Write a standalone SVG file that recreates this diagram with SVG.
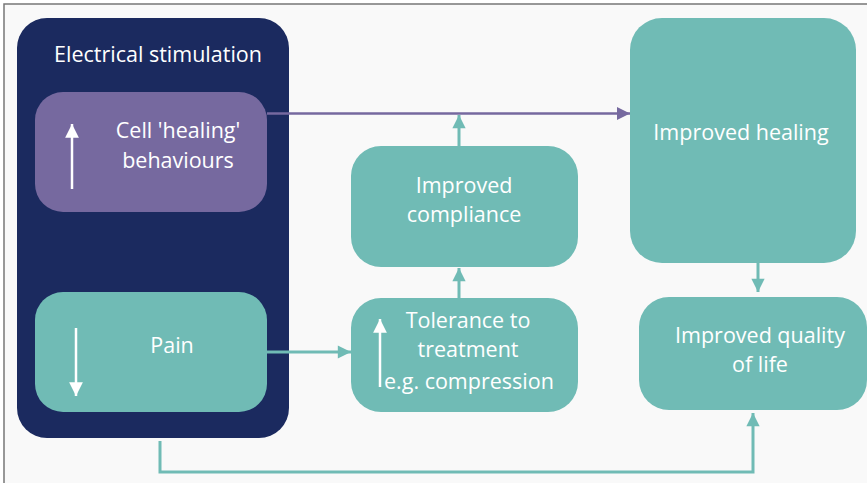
<svg xmlns="http://www.w3.org/2000/svg" width="867" height="483" viewBox="0 0 867 483">
<style>
.t{font-family:"Open Sans","Noto Sans",sans-serif;font-size:21.5px;fill:#ffffff;text-anchor:middle}
.teal{fill:#70bbb5}
.tl{stroke:#70bbb5;stroke-width:3;fill:none}
</style>
<defs>
<marker id="ah" viewBox="0 0 10 10" refX="10" refY="5" markerWidth="5.5" markerHeight="4.4" orient="auto" markerUnits="strokeWidth"><path d="M0,0 L10,5 L0,10 z" fill="#70bbb5"/></marker>
<marker id="ap" viewBox="0 0 10 10" refX="10" refY="5" markerWidth="7" markerHeight="5.2" orient="auto" markerUnits="strokeWidth"><path d="M0,0 L10,5 L0,10 z" fill="#76699f"/></marker>
<marker id="aw" viewBox="0 0 10 10" refX="10" refY="5" markerWidth="6" markerHeight="5.5" orient="auto" markerUnits="strokeWidth"><path d="M0,0 L10,5 L0,10 z" fill="#ffffff"/></marker>
</defs>
<rect width="867" height="483" fill="#ffffff"/>
<rect x="4" y="4" width="880" height="490" fill="#f9f9f9" stroke="#777777" stroke-width="1.5"/>
<g id="electrical">
<rect x="17" y="18" width="272" height="420" rx="30" fill="#1b2a5f"/>
<text class="t" x="158" y="62">Electrical stimulation</text>
</g>
<g id="cell">
<rect x="35" y="92" width="232" height="120" rx="28" fill="#76699f"/>
<line x1="72" y1="189" x2="72" y2="124" stroke="#fff" stroke-width="2.5" marker-end="url(#aw)"/>
<text class="t" x="178" y="138">Cell 'healing'</text>
<text class="t" x="178" y="168">behaviours</text>
</g>
<g id="pain">
<rect x="35" y="292" width="232" height="120" rx="28" class="teal"/>
<line x1="76" y1="328" x2="76" y2="396" stroke="#fff" stroke-width="2.5" marker-end="url(#aw)"/>
<text class="t" x="172" y="353">Pain</text>
</g>
<g id="compliance">
<rect x="351" y="146" width="227" height="121" rx="30" class="teal"/>
<text class="t" x="464" y="193">Improved</text>
<text class="t" x="464" y="222">compliance</text>
</g>
<g id="tolerance">
<rect x="351" y="298" width="227" height="114" rx="30" class="teal"/>
<line x1="380" y1="387" x2="380" y2="319" stroke="#fff" stroke-width="2.5" marker-end="url(#aw)"/>
<text class="t" x="468" y="328">Tolerance to</text>
<text class="t" x="468" y="357">treatment</text>
<text class="t" x="384" y="389" style="text-anchor:start">e.g. compression</text>
</g>
<g id="healing">
<rect x="630" y="18" width="226" height="245" rx="32" class="teal"/>
<text class="t" x="741" y="140">Improved healing</text>
</g>
<g id="quality">
<rect x="639" y="297" width="228" height="113" rx="30" class="teal"/>
<text class="t" x="760" y="343">Improved quality</text>
<text class="t" x="760" y="372">of life</text>
</g>
<g id="connectors">
<line x1="267" y1="113.5" x2="630" y2="113.5" stroke="#76699f" stroke-width="2.5" marker-end="url(#ap)"/>
<line x1="459" y1="146" x2="459" y2="115" class="tl" marker-end="url(#ah)"/>
<line x1="459" y1="298" x2="459" y2="268" class="tl" marker-end="url(#ah)"/>
<line x1="267" y1="352" x2="351" y2="352" class="tl" marker-end="url(#ah)"/>
<line x1="758" y1="263" x2="758" y2="292" class="tl" marker-end="url(#ah)"/>
<polyline points="160,441 160,472 753,472 753,413" class="tl" marker-end="url(#ah)"/>
</g>
</svg>
